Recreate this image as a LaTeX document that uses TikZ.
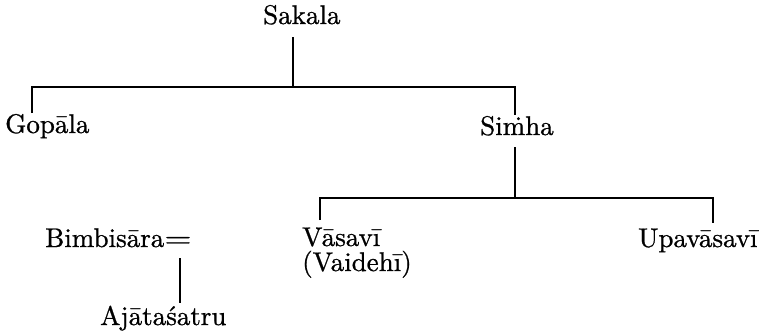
\documentclass[tikz,border=0pt]{standalone}
\usepackage{fontspec}
\newfontfamily\gfont{lmroman10-regular.otf}[FakeBold=0.8]
\begin{document}
\begin{tikzpicture}[x=1pt,y=-1pt,
  person/.style={anchor=base west,inner sep=0pt,font=\gfont\fontsize{27}{22}\selectfont},
  link/.style={line width=1.3pt}]
\useasboundingbox (0,0) rectangle (765,332);
% names
\node[person] (sakala) at (263,24) {Sakala};
\node[person] (gopala) at (5,133) {Gop\=ala};
\node[person] (simha)  at (480,135) {Si\.mha};
\node[person] (vasavi) at (302,246) {V\=asav\=\i};
\node[person] (vaidehi) at (302,271) {(Vaideh\=\i)};
\node[person] (upa)    at (638,247) {Upav\=asav\=\i};
\node[person] (bimb)   at (45,247) {Bimbis\=ara\scalebox{1.3}[1]{=}};
\node[person] (ajata)  at (100,325) {Aj\=ata\'satru};
% junction coordinates
\coordinate (s0) at (293,37);
\coordinate (s1) at (293,87);
\coordinate (g0) at (32,87);
\coordinate (g1) at (32,113);
\coordinate (h0) at (515,87);
\coordinate (h1) at (515,115);
\coordinate (m0) at (515,147);
\coordinate (m1) at (515,198);
\coordinate (v0) at (320,198);
\coordinate (v1) at (320,220);
\coordinate (u0) at (713,198);
\coordinate (u1) at (713,223);
\coordinate (b0) at (180,258);
\coordinate (b1) at (180,303);
% connectors
\draw[link] (s0) -- (s1);
\draw[link] (g1) -- (g0) -- (h0) -- (h1);
\draw[link] (m0) -- (m1);
\draw[link] (v1) -- (v0) -- (u0) -- (u1);
\draw[link] (b0) -- (b1);
\end{tikzpicture}
\end{document}
